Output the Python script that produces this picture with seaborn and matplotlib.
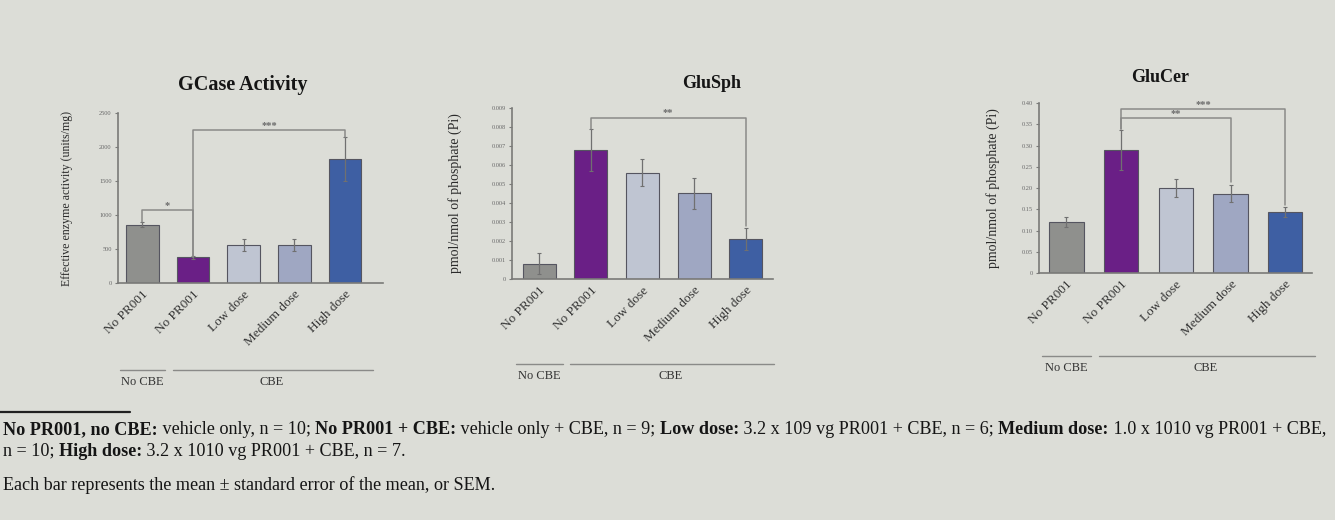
"""
PR001 전임상 — GCase 활성 / GluSph / GluCer 막대그래프 (슬라이드 재현)
"""
import matplotlib.pyplot as plt
import matplotlib.transforms as mtransforms
import numpy as np
import pandas as pd
import seaborn as sns

CONDITIONS = ["No PR001 (no CBE)", "No PR001 (CBE)", "Low dose", "Medium dose", "High dose"]
TICK_LABELS = ["No PR001", "No PR001", "Low dose", "Medium dose", "High dose"]
PALETTE = ["#8f908d", "#6a1f86", "#bfc5d2", "#9fa7c2", "#3e5fa3"]

GCASE_MEAN = [860, 375, 555, 555, 1820]
GCASE_SEM = [40, 25, 85, 85, 320]
GLUSPH_MEAN = [0.0008, 0.0068, 0.0056, 0.0045, 0.0021]
GLUSPH_SEM = [0.00055, 0.0011, 0.0007, 0.0008, 0.0006]
GLUCER_MEAN = [0.120, 0.290, 0.200, 0.187, 0.143]
GLUCER_SEM = [0.012, 0.047, 0.022, 0.020, 0.012]

GCASE_TICKS = [0, 500, 1000, 1500, 2000, 2500]
GLUSPH_TICKS = [0, 0.001, 0.002, 0.003, 0.004, 0.005, 0.006, 0.007, 0.008, 0.009]
GLUCER_TICKS = [0, 0.05, 0.10, 0.15, 0.20, 0.25, 0.30, 0.35, 0.40]

# (별표, 왼쪽 막대, 오른쪽 막대, 가로선 높이, 왼쪽 끝, 오른쪽 끝)
GCASE_SIG = [("*", 0, 1, 1075, 900, 380), ("***", 1, 4, 2255, 380, 2150)]
GLUSPH_SIG = [("**", 1, 4, 0.0085, 0.0079, 0.0028)]
GLUCER_SIG = [("***", 1, 4, 0.387, 0.340, 0.160), ("**", 1, 3, 0.365, 0.340, 0.215)]

BG = "#dcddd7"
AXIS_GREY = "#7a7a78"

sns.set_style("ticks", {"axes.facecolor": BG, "figure.facecolor": BG})
plt.rcParams["font.family"] = ["Liberation Serif", "DejaVu Serif"]


def fmt_tick(v, decimals):
    if v == 0:
        return "0"
    return f"{v:.{decimals}f}" if decimals else f"{int(v)}"


def draw_panel(ax, means, sems, ticks, decimals, ylabel, ylabel_size, sig, xlim, width,
               label_x, group_y):
    df = pd.DataFrame({"cond": CONDITIONS, "mean": means})
    sns.barplot(data=df, x="cond", y="mean", hue="cond", palette=PALETTE, legend=False,
                width=width, edgecolor="#555560", linewidth=0.8, ax=ax, saturation=1)
    ax.errorbar(np.arange(len(means)), means, yerr=sems, fmt="none",
                ecolor="#707070", elinewidth=0.9, capsize=1.2, capthick=0.8)

    for star, i, j, h, yl, yr in sig:
        ax.plot([i, i, j, j], [yl, h, h, yr], color="#8a8a88", lw=1.1, clip_on=False)
        ax.text((i + j) / 2, h, star, ha="center", va="bottom", fontsize=7.5,
                color="#6a6a6a", fontweight="bold")

    ax.set_xlim(*xlim)
    ax.set_ylim(0, ticks[-1])
    ax.set_yticks(ticks)
    ax.set_yticklabels([fmt_tick(t, decimals) for t in ticks], fontsize=4.6, color="#6a6a6a")
    ax.set_xticks(range(len(TICK_LABELS)))
    ax.set_xticklabels(TICK_LABELS, rotation=45, ha="right", rotation_mode="anchor",
                       fontsize=9.5, color="#333333")
    ax.tick_params(axis="x", length=0, pad=4)
    ax.tick_params(axis="y", length=2.5, width=0.8, color=AXIS_GREY, pad=2)
    ax.set_xlabel("")
    ax.set_ylabel(ylabel, fontsize=ylabel_size, color="#2a2a2a")
    ax.yaxis.set_label_coords(label_x, 0.5)
    sns.despine(ax=ax)
    for side in ("left", "bottom"):
        ax.spines[side].set_color(AXIS_GREY)
        ax.spines[side].set_linewidth(1.2)

    # 하단 그룹 표시 (No CBE / CBE)
    trans = mtransforms.blended_transform_factory(ax.transData, ax.transAxes)
    ax.plot([-0.45, 0.45], [group_y, group_y], color="#8a8a88", lw=1.0,
            transform=trans, clip_on=False)
    ax.plot([0.6, 4.55], [group_y, group_y], color="#8a8a88", lw=1.0,
            transform=trans, clip_on=False)
    ax.text(0, group_y - 0.07, "No CBE", transform=trans, ha="center", va="center",
            fontsize=9, color="#333333")
    ax.text(2.55, group_y - 0.07, "CBE", transform=trans, ha="center", va="center",
            fontsize=9, color="#333333")


def rich_line(fig, x, y, parts, fontsize):
    """굵은/보통 글씨를 이어붙여 한 줄로 배치."""
    renderer = fig.canvas.get_renderer()
    for s, bold in parts:
        t = fig.text(x, y, s, fontsize=fontsize, color="#151515", va="center",
                     fontweight="bold" if bold else "normal")
        x += t.get_window_extent(renderer).width / fig.bbox.width


fig = plt.figure(figsize=(13.35, 5.2), dpi=100)

ax1 = fig.add_axes([0.0884, 0.4558, 0.1985, 0.3269])
ax2 = fig.add_axes([0.3835, 0.4635, 0.1955, 0.3288])
ax3 = fig.add_axes([0.7783, 0.4750, 0.2045, 0.3269])

draw_panel(ax1, GCASE_MEAN, GCASE_SEM, GCASE_TICKS, 0, "Effective enzyme activity (units/mg)", 8.6,
           GCASE_SIG, (-0.48, 4.75), 0.65, -0.17, -0.51)
draw_panel(ax2, GLUSPH_MEAN, GLUSPH_SEM, GLUSPH_TICKS, 3, "pmol/nmol of phosphate (Pi)", 10,
           GLUSPH_SIG, (-0.53, 4.53), 0.64, -0.19, -0.50)
draw_panel(ax3, GLUCER_MEAN, GLUCER_SEM, GLUCER_TICKS, 2, "pmol/nmol of phosphate (Pi)", 10,
           GLUCER_SIG, (-0.50, 4.49), 0.63, -0.143, -0.49)

fig.text(0.182, 0.836, "GCase Activity", ha="center", va="center", fontsize=14.5,
         fontweight="bold", color="#151515")
fig.text(0.533, 0.840, "GluSph", ha="center", va="center", fontsize=13,
         fontweight="bold", color="#151515")
fig.text(0.869, 0.850, "GluCer", ha="center", va="center", fontsize=13,
         fontweight="bold", color="#151515")

# 각주
fig.add_artist(plt.Line2D([0, 130 / 1335], [1 - 412 / 520] * 2, color="#202020", lw=1.6,
                          transform=fig.transFigure))
FOOT_1 = [("No PR001, no CBE:", True), (" vehicle only, n = 10; ", False),
          ("No PR001 + CBE:", True), (" vehicle only + CBE, n = 9; ", False),
          ("Low dose:", True), (" 3.2 x 109 vg PR001 + CBE, n = 6; ", False),
          ("Medium dose:", True), (" 1.0 x 1010 vg PR001 + CBE,", False)]
FOOT_2 = [("n = 10; ", False), ("High dose:", True), (" 3.2 x 1010 vg PR001 + CBE, n = 7.", False)]
FOOT_3 = [("Each bar represents the mean \u00b1 standard error of the mean, or SEM.", False)]
rich_line(fig, 3 / 1335, 1 - 430 / 520, FOOT_1, 13.1)
rich_line(fig, 3 / 1335, 1 - 451 / 520, FOOT_2, 13.1)
rich_line(fig, 3 / 1335, 1 - 485 / 520, FOOT_3, 13.1)

fig.savefig("out.png", dpi=100, facecolor=BG)
